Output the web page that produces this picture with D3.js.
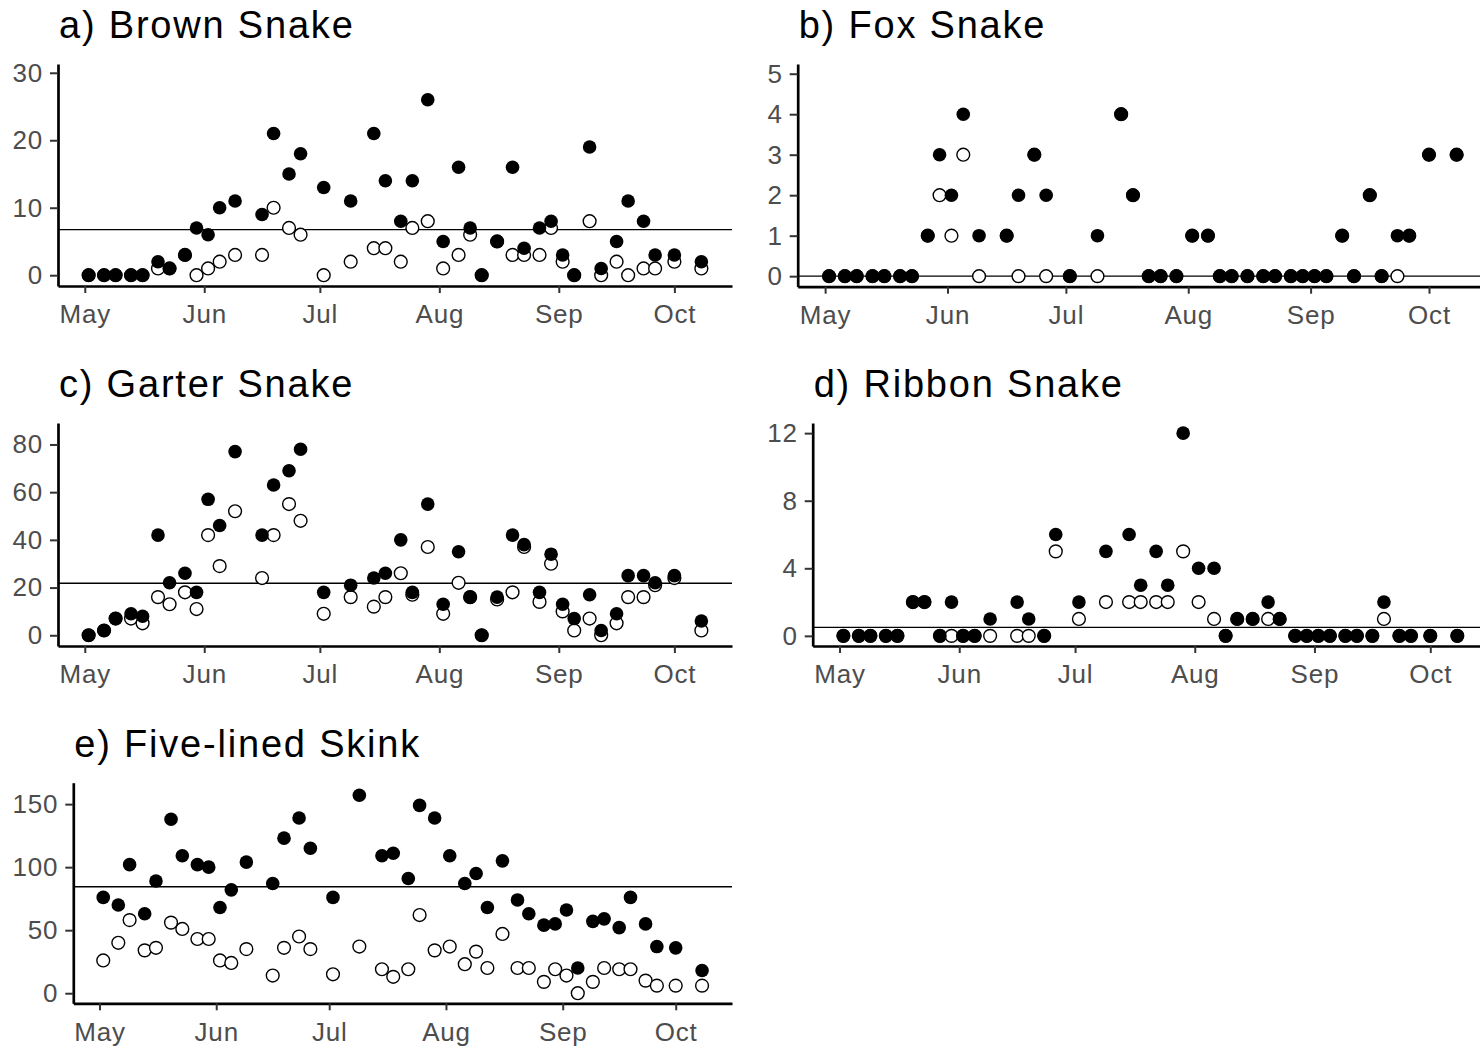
<!DOCTYPE html>
<html>
<head>
<meta charset="utf-8">
<script src="https://cdn.jsdelivr.net/npm/d3@7"></script>
<style>
  body { margin: 0; background: #fff; }
  svg { display: block; font-family: "Liberation Sans", Arial, sans-serif; }
</style>
</head>
<body>
<svg id="chart" width="1480" height="1053"></svg>
<script>
// survey dates (month-day), shared by every panel
let sampleDates = ["05-02","05-06","05-09","05-13","05-16","05-20","05-23","05-27","05-30",
                   "06-02","06-05","06-09","06-16","06-19","06-23","06-26",
                   "07-02","07-09","07-15","07-18","07-22","07-25","07-29",
                   "08-02","08-06","08-09","08-12","08-16","08-20","08-23","08-27","08-30",
                   "09-02","09-05","09-09","09-12","09-16","09-19","09-23","09-26",
                   "10-01","10-08"];

// filled points = total count, open points = subset
let brownAll  = [0,0,0,0,0,2,1,3,7, 6,10,11,9,21,15,18, 13,11,21,14,8,14,26, 5,16,7,0,5,16,4,7,8, 3,0,19,1,5,11,8,3, 3,2];
let brownSub  = [0,0,0,0,0,1,1,3,0, 1,2,3,3,10,7,6, 0,2,4,4,2,7,8, 1,3,6,0,5,3,3,3,7, 2,0,8,0,2,0,1,1, 2,1];
let foxAll    = [0,0,0,0,0,0,0,1,3, 2,4,1,1,2,3,2, 0,1,4,2,0,0,0, 1,1,0,0,0,0,0,0,0, 0,0,1,0,2,0,1,1, 3,3];
let foxSub    = [0,0,0,0,0,0,0,1,2, 1,3,0,1,0,3,0, 0,0,4,2,0,0,0, 1,1,0,0,0,0,0,0,0, 0,0,1,0,2,0,0,1, 3,3];
let garterAll = [0,2,7,9,8,42,22,26,18, 57,46,77,42,63,69,78, 18,21,24,26,40,18,55, 13,35,16,0,16,42,38,18,34, 13,7,17,2,9,25,25,22, 25,6];
let garterSub = [0,2,7,7,5,16,13,18,11, 42,29,52,24,42,55,48, 9,16,12,16,26,17,37, 9,22,16,0,15,18,37,14,30, 10,2,7,0,5,16,16,21, 24,2];
let ribbonAll = [0,0,0,0,0,2,2,0,2, 0,0,1,2,1,0,6, 2,5,6,3,5,3,12, 4,4,0,1,1,2,1,0,0, 0,0,0,0,0,2,0,0, 0,0];
let ribbonSub = [0,0,0,0,0,2,2,0,0, 0,0,0,0,0,0,5, 1,2,2,2,2,2,5, 2,1,0,1,1,1,1,0,0, 0,0,0,0,0,1,0,0, 0,0];
let skinkAll  = [76,70,102,63,89,138,109,102,100, 68,82,104,87,123,139,115, 76,157,109,111,91,149,139,
                 109,87,95,68,105,74,63,54,55, 66,20,57,59,52,76,55,37, 36,18];
let skinkSub  = [26,40,58,34,36,56,51,43,43, 26,24,35,14,36,45,35, 15,37,19,13,19,62,34,
                 37,23,33,20,47,20,20,9,19, 14,0,9,20,19,19,10,6, 6,6];

// horizontal reference line for each species
let refValues = [6.75, 0, 21.8, 0.5, 84.5];

let titles = ["a) Brown Snake", "b) Fox Snake", "c) Garter Snake", "d) Ribbon Snake", "e) Five-lined Skink"];
let yTickSets = [[0,10,20,30], [0,1,2,3,4,5], [0,20,40,60,80], [0,4,8,12], [0,50,100,150]];

let parseDay = d3.timeParse("%m-%d");
let dates = sampleDates.map(parseDay);

let svg = d3.select("#chart");

// plotting boxes and y ranges for the five panels
let panels = [
  {all: brownAll,  sub: brownSub,  yDom: [-1.6, 31.3], box: {l: 58,    r: 732,  t: 64,    b: 286}},
  {all: foxAll,    sub: foxSub,    yDom: [-0.26, 5.24], box: {l: 797.7, r: 1488, t: 64,    b: 286.7}},
  {all: garterAll, sub: garterSub, yDom: [-4.5, 89],   box: {l: 58,    r: 732,  t: 423,   b: 646}},
  {all: ribbonAll, sub: ribbonSub, yDom: [-0.6, 12.6], box: {l: 812.7, r: 1488, t: 423,   b: 646}},
  {all: skinkAll,  sub: skinkSub,  yDom: [-8, 167],    box: {l: 73.3,  r: 732,  t: 782.7, b: 1003.3}}
];

let ext = d3.extent(dates);
let pad = (ext[1] - ext[0]) * 0.05;
let xDomain = [new Date(+ext[0] - pad), new Date(+ext[1] + pad)];

panels.forEach((p, i) => {
  let box = p.box;
  let x = d3.scaleTime().domain(xDomain).range([box.l, box.r]);
  let y = d3.scaleLinear().domain(p.yDom).range([box.b, box.t]);
  let g = svg.append("g");

  // title
  g.append("text")
   .attr("x", box.l + 1)
   .attr("y", box.t - 26)
   .attr("font-size", 38)
   .attr("letter-spacing", 1.8)
   .attr("fill", "#000")
   .text(titles[i]);

  // axes
  let yAxis = g.append("g")
               .attr("transform", "translate(" + box.l + ",0)")
               .call(d3.axisLeft(y).tickValues(yTickSets[i]).tickFormat(d3.format("d"))
                       .tickSize(8).tickSizeOuter(0).tickPadding(7));
  let xAxis = g.append("g")
               .attr("transform", "translate(0," + box.b + ")")
               .call(d3.axisBottom(x).tickValues(d3.timeMonth.range(xDomain[0], xDomain[1]))
                       .tickFormat(d3.timeFormat("%b")).tickSize(7).tickSizeOuter(0).tickPadding(12));

  [yAxis, xAxis].forEach(ax => {
    ax.select(".domain").attr("stroke", "#000").attr("stroke-width", 2.7);
    ax.selectAll(".tick line").attr("stroke", "#333").attr("stroke-width", 2);
    ax.selectAll(".tick text")
      .attr("font-size", 26)
      .attr("letter-spacing", 0.8)
      .attr("fill", "#4D4D4D")
      .attr("font-family", "Liberation Sans, Arial, sans-serif");
  });

  // reference line
  g.append("line")
   .attr("x1", box.l).attr("x2", box.r)
   .attr("y1", y(refValues[i])).attr("y2", y(refValues[i]))
   .attr("stroke", "#000")
   .attr("stroke-width", 1.4);

  // open points first, filled points on top
  g.selectAll(".sub")
   .data(p.sub)
   .enter()
   .append("circle")
   .attr("class", "sub")
   .attr("cx", (d, j) => x(dates[j]))
   .attr("cy", d => y(d))
   .attr("r", 6.4)
   .attr("fill", "#fff")
   .attr("stroke", "#000")
   .attr("stroke-width", 1.4);

  g.selectAll(".all")
   .data(p.all)
   .enter()
   .append("circle")
   .attr("class", "all")
   .attr("cx", (d, j) => x(dates[j]))
   .attr("cy", d => y(d))
   .attr("r", 6.8)
   .attr("fill", "#000");
});
</script>
</body>
</html>
